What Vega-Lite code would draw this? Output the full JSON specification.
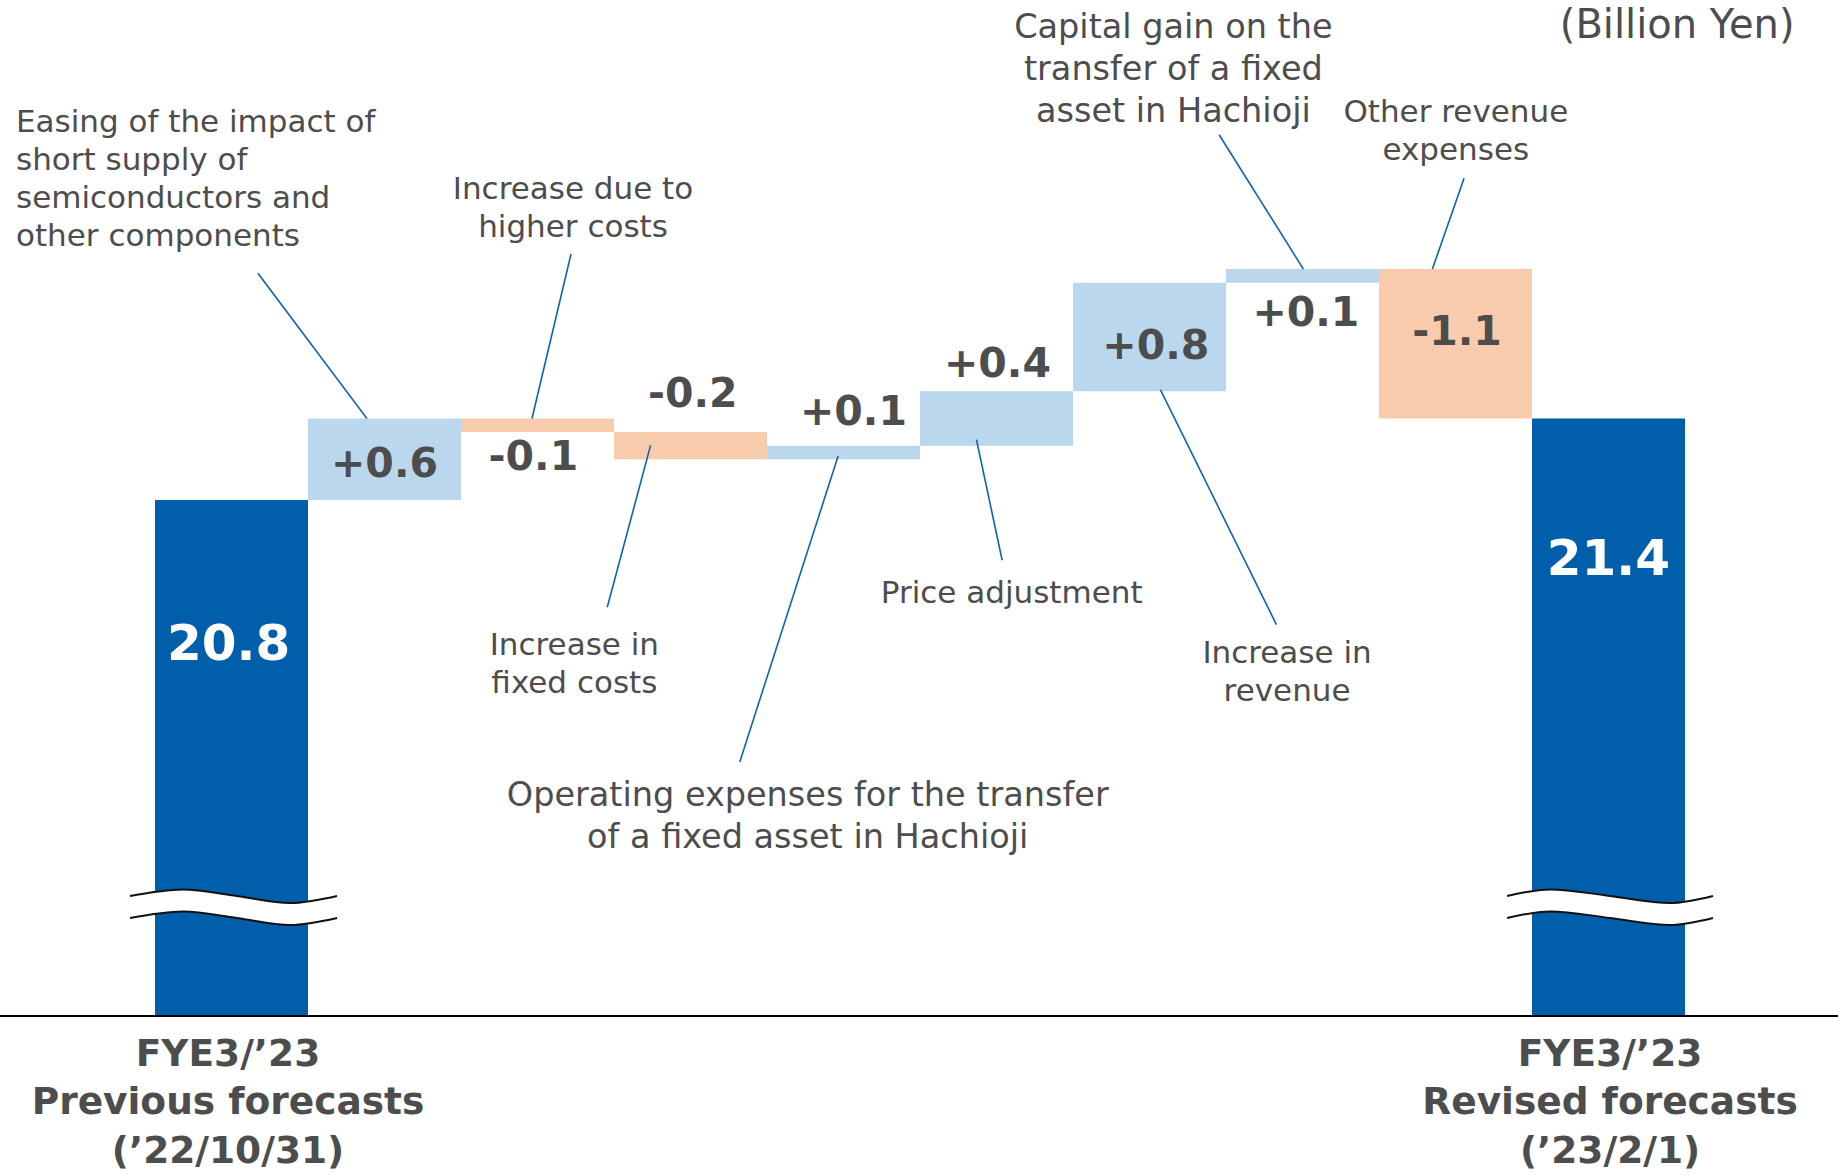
{
  "$schema": "https://vega.github.io/schema/vega-lite/v6.json",
  "width": 1838,
  "height": 1176,
  "autosize": {"type": "none"},
  "padding": 0,
  "background": "white",
  "config": {"view": {"stroke": null}, "font": "DejaVu Sans"},
  "datasets": {
    "bars": [
      {"x": 0, "x2": 1, "y": 17, "y2": 20.8, "kind": "total"},
      {"x": 1, "x2": 2, "y": 20.8, "y2": 21.4, "kind": "up"},
      {"x": 2, "x2": 3, "y": 21.4, "y2": 21.3, "kind": "down"},
      {"x": 3, "x2": 4, "y": 21.3, "y2": 21.1, "kind": "down"},
      {"x": 4, "x2": 5, "y": 21.1, "y2": 21.2, "kind": "up"},
      {"x": 5, "x2": 6, "y": 21.2, "y2": 21.6, "kind": "up"},
      {"x": 6, "x2": 7, "y": 21.6, "y2": 22.4, "kind": "up"},
      {"x": 7, "x2": 8, "y": 22.4, "y2": 22.5, "kind": "up"},
      {"x": 8, "x2": 9, "y": 22.5, "y2": 21.4, "kind": "down"},
      {"x": 9, "x2": 10, "y": 17, "y2": 21.4, "kind": "total"}
    ],
    "breaks": [
      {"grp": "L", "x": -0.1634, "y": 17.884, "y2": 17.722},
      {"grp": "L", "x": 0.183, "y": 17.932, "y2": 17.77},
      {"grp": "L", "x": 0.536, "y": 17.884, "y2": 17.722},
      {"grp": "L", "x": 0.882, "y": 17.832, "y2": 17.67},
      {"grp": "L", "x": 1.19, "y": 17.884, "y2": 17.722},
      {"grp": "R", "x": 8.837, "y": 17.884, "y2": 17.722},
      {"grp": "R", "x": 9.118, "y": 17.932, "y2": 17.77},
      {"grp": "R", "x": 9.51, "y": 17.884, "y2": 17.722},
      {"grp": "R", "x": 9.902, "y": 17.832, "y2": 17.67},
      {"grp": "R", "x": 10.183, "y": 17.884, "y2": 17.722}
    ],
    "leaders": [
      {"x": 0.6725, "y": 22.47, "x2": 1.385, "y2": 21.4},
      {"x": 2.719, "y": 22.611, "x2": 2.464, "y2": 21.4},
      {"x": 3.239, "y": 21.202, "x2": 2.956, "y2": 20.01},
      {"x": 4.465, "y": 21.124, "x2": 3.822, "y2": 18.87},
      {"x": 5.369, "y": 21.244, "x2": 5.537, "y2": 20.356},
      {"x": 6.572, "y": 21.61, "x2": 7.33, "y2": 19.881},
      {"x": 6.955, "y": 23.489, "x2": 7.506, "y2": 22.5},
      {"x": 8.556, "y": 23.169, "x2": 8.349, "y2": 22.5}
    ],
    "annLeft": [
      {"x": -0.9085, "y": 23.575, "text": "Easing of the impact of\nshort supply of\nsemiconductors and\nother components"}
    ],
    "ann": [
      {"x": 2.732, "y": 23.083, "text": "Increase due to\nhigher costs"},
      {"x": 2.741, "y": 19.725, "text": "Increase in\nfixed costs"},
      {"x": 5.599, "y": 20.105, "text": "Price adjustment"},
      {"x": 7.399, "y": 19.665, "text": "Increase in\nrevenue"},
      {"x": 8.502, "y": 23.653, "text": "Other revenue\nexpenses"}
    ],
    "annBig": [
      {"x": 4.266, "y": 18.621, "text": "Operating expenses for the transfer\nof a fixed asset in Hachioji"},
      {"x": 6.656, "y": 24.275, "text": "Capital gain on the\ntransfer of a fixed\nasset in Hachioji"}
    ],
    "unit": [
      {"x": 10.716, "y": 24.289, "text": "(Billion Yen)"}
    ],
    "values": [
      {"x": 1.5, "y": 21.054, "text": "+0.6"},
      {"x": 2.473, "y": 21.107, "text": "-0.1"},
      {"x": 3.515, "y": 21.573, "text": "-0.2"},
      {"x": 4.565, "y": 21.443, "text": "+0.1"},
      {"x": 5.506, "y": 21.797, "text": "+0.4"},
      {"x": 6.541, "y": 21.926, "text": "+0.8"},
      {"x": 7.522, "y": 22.168, "text": "+0.1"},
      {"x": 8.51, "y": 22.03, "text": "-1.1"}
    ],
    "totals": [
      {"x": 0.481, "y": 19.734, "text": "20.8"},
      {"x": 9.499, "y": 20.356, "text": "21.4"}
    ],
    "cats": [
      {"x": 0.477, "y": 16.713, "text": "FYE3/’23\nPrevious forecasts\n(’22/10/31)"},
      {"x": 9.51, "y": 16.713, "text": "FYE3/’23\nRevised forecasts\n(’23/2/1)"}
    ],
    "axisline": [{"y": 17}]
  },
  "layer": [
    {
      "data": {"name": "bars"},
      "mark": {"type": "rect"},
      "encoding": {
        "x": {"field": "x", "type": "quantitative", "scale": {"domain": [-1.01307, 11.0], "nice": false, "zero": false}, "axis": null},
        "x2": {"field": "x2"},
        "y": {"field": "y", "type": "quantitative", "scale": {"domain": [15.8218, 24.4816], "nice": false, "zero": false}, "axis": null},
        "y2": {"field": "y2"},
        "color": {"field": "kind", "type": "nominal", "scale": {"domain": ["total", "up", "down"], "range": ["#005EAA", "#BAD7EE", "#F7CBAC"]}, "legend": null}
      }
    },
    {
      "data": {"name": "breaks"},
      "mark": {"type": "area", "interpolate": "monotone", "color": "white", "opacity": 1},
      "encoding": {
        "x": {"field": "x", "type": "quantitative", "scale": {"domain": [-1.01307, 11.0], "nice": false, "zero": false}, "axis": null},
        "y": {"field": "y", "type": "quantitative", "scale": {"domain": [15.8218, 24.4816], "nice": false, "zero": false}, "axis": null},
        "y2": {"field": "y2"},
        "detail": {"field": "grp"}
      }
    },
    {
      "data": {"name": "breaks"},
      "mark": {"type": "line", "interpolate": "monotone", "color": "#111111", "strokeWidth": 2},
      "encoding": {
        "x": {"field": "x", "type": "quantitative", "scale": {"domain": [-1.01307, 11.0], "nice": false, "zero": false}, "axis": null},
        "y": {"field": "y", "type": "quantitative", "scale": {"domain": [15.8218, 24.4816], "nice": false, "zero": false}, "axis": null},
        "detail": {"field": "grp"}
      }
    },
    {
      "data": {"name": "breaks"},
      "mark": {"type": "line", "interpolate": "monotone", "color": "#111111", "strokeWidth": 2},
      "encoding": {
        "x": {"field": "x", "type": "quantitative", "scale": {"domain": [-1.01307, 11.0], "nice": false, "zero": false}, "axis": null},
        "y": {"field": "y2", "type": "quantitative", "scale": {"domain": [15.8218, 24.4816], "nice": false, "zero": false}, "axis": null},
        "detail": {"field": "grp"}
      }
    },
    {
      "data": {"name": "axisline"},
      "mark": {"type": "rule", "color": "#000000", "strokeWidth": 2},
      "encoding": {
        "y": {"field": "y", "type": "quantitative", "scale": {"domain": [15.8218, 24.4816], "nice": false, "zero": false}, "axis": null}
      }
    },
    {
      "data": {"name": "leaders"},
      "mark": {"type": "rule", "color": "#0F62B4", "strokeWidth": 1.6},
      "encoding": {
        "x": {"field": "x", "type": "quantitative", "scale": {"domain": [-1.01307, 11.0], "nice": false, "zero": false}, "axis": null},
        "x2": {"field": "x2"},
        "y": {"field": "y", "type": "quantitative", "scale": {"domain": [15.8218, 24.4816], "nice": false, "zero": false}, "axis": null},
        "y2": {"field": "y2"}
      }
    },
    {
      "data": {"name": "annLeft"},
      "mark": {"type": "text", "align": "left", "baseline": "middle", "fontSize": 31, "lineHeight": 38, "lineBreak": "\n", "color": "#4D4D4D"},
      "encoding": {
        "x": {"field": "x", "type": "quantitative", "scale": {"domain": [-1.01307, 11.0], "nice": false, "zero": false}, "axis": null},
        "y": {"field": "y", "type": "quantitative", "scale": {"domain": [15.8218, 24.4816], "nice": false, "zero": false}, "axis": null},
        "text": {"field": "text"}
      }
    },
    {
      "data": {"name": "ann"},
      "mark": {"type": "text", "align": "center", "baseline": "middle", "fontSize": 31, "lineHeight": 38, "lineBreak": "\n", "color": "#4D4D4D"},
      "encoding": {
        "x": {"field": "x", "type": "quantitative", "scale": {"domain": [-1.01307, 11.0], "nice": false, "zero": false}, "axis": null},
        "y": {"field": "y", "type": "quantitative", "scale": {"domain": [15.8218, 24.4816], "nice": false, "zero": false}, "axis": null},
        "text": {"field": "text"}
      }
    },
    {
      "data": {"name": "annBig"},
      "mark": {"type": "text", "align": "center", "baseline": "middle", "fontSize": 33.5, "lineHeight": 42, "lineBreak": "\n", "color": "#4D4D4D"},
      "encoding": {
        "x": {"field": "x", "type": "quantitative", "scale": {"domain": [-1.01307, 11.0], "nice": false, "zero": false}, "axis": null},
        "y": {"field": "y", "type": "quantitative", "scale": {"domain": [15.8218, 24.4816], "nice": false, "zero": false}, "axis": null},
        "text": {"field": "text"}
      }
    },
    {
      "data": {"name": "unit"},
      "mark": {"type": "text", "align": "right", "baseline": "middle", "fontSize": 40, "color": "#4D4D4D"},
      "encoding": {
        "x": {"field": "x", "type": "quantitative", "scale": {"domain": [-1.01307, 11.0], "nice": false, "zero": false}, "axis": null},
        "y": {"field": "y", "type": "quantitative", "scale": {"domain": [15.8218, 24.4816], "nice": false, "zero": false}, "axis": null},
        "text": {"field": "text"}
      }
    },
    {
      "data": {"name": "values"},
      "mark": {"type": "text", "align": "center", "baseline": "middle", "fontSize": 41, "fontWeight": "bold", "color": "#4D4D4D"},
      "encoding": {
        "x": {"field": "x", "type": "quantitative", "scale": {"domain": [-1.01307, 11.0], "nice": false, "zero": false}, "axis": null},
        "y": {"field": "y", "type": "quantitative", "scale": {"domain": [15.8218, 24.4816], "nice": false, "zero": false}, "axis": null},
        "text": {"field": "text"}
      }
    },
    {
      "data": {"name": "totals"},
      "mark": {"type": "text", "align": "center", "baseline": "middle", "fontSize": 50, "fontWeight": "bold", "color": "#FFFFFF"},
      "encoding": {
        "x": {"field": "x", "type": "quantitative", "scale": {"domain": [-1.01307, 11.0], "nice": false, "zero": false}, "axis": null},
        "y": {"field": "y", "type": "quantitative", "scale": {"domain": [15.8218, 24.4816], "nice": false, "zero": false}, "axis": null},
        "text": {"field": "text"}
      }
    },
    {
      "data": {"name": "cats"},
      "mark": {"type": "text", "align": "center", "baseline": "middle", "fontSize": 37.5, "lineHeight": 48.5, "lineBreak": "\n", "fontWeight": "bold", "color": "#4D4D4D"},
      "encoding": {
        "x": {"field": "x", "type": "quantitative", "scale": {"domain": [-1.01307, 11.0], "nice": false, "zero": false}, "axis": null},
        "y": {"field": "y", "type": "quantitative", "scale": {"domain": [15.8218, 24.4816], "nice": false, "zero": false}, "axis": null},
        "text": {"field": "text"}
      }
    }
  ]
}
